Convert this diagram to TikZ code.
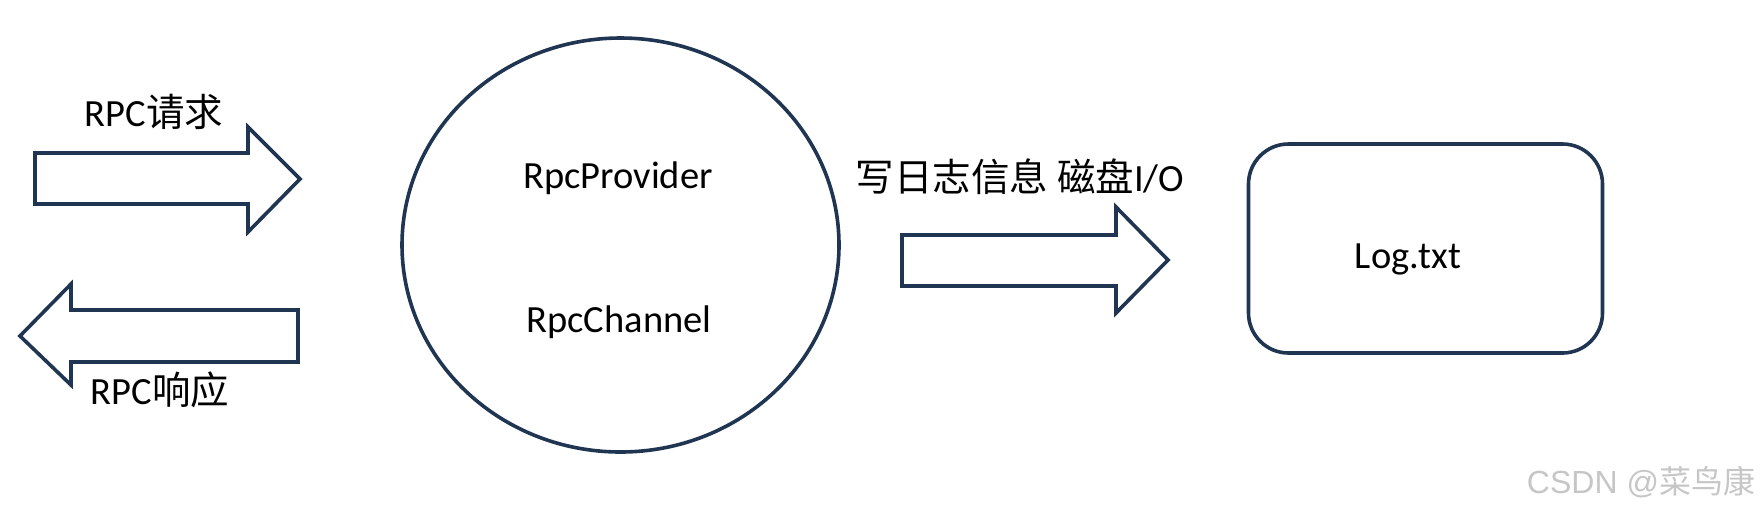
\documentclass[tikz,border=0pt]{standalone}
\usepackage{fontspec}
\setmainfont{Carlito}
\newfontfamily\cjk{Noto Sans CJK SC}
\newfontfamily\wmfont{Liberation Sans}
\usetikzlibrary{shapes.geometric}
\definecolor{navy}{HTML}{1F3552}

\begin{document}
\begin{tikzpicture}[x=0.5pt,y=-0.5pt,
    blockarrow/.style={draw=navy,line width=1.8pt,line join=miter},
    txt/.style={font=\fontsize{19.25}{23}\selectfont,inner sep=0pt}]
    \useasboundingbox (0,0) rectangle (1761,510);

    % request / response
    \draw[blockarrow] (35,153) -- (248,153) -- (248,127) -- (300,179) -- (248,232) -- (248,204) -- (35,204) -- cycle;
    \node[txt] (req) at (154,112) {RPC{\cjk 请求}};
    \draw[blockarrow] (298,310) -- (71,310) -- (71,284) -- (20,336) -- (71,385) -- (71,362) -- (298,362) -- cycle;
    \node[txt] (resp) at (160,390) {RPC{\cjk 响应}};

    % provider
    \node[ellipse,draw=navy,line width=1.8pt,minimum width=218.5pt,minimum height=207pt,inner sep=0pt] (server) at (620.5,245) {};
    \node[txt] (provider) at (618,178) {RpcProvider};
    \node[txt] (channel) at (619,322) {RpcChannel};

    % log file
    \draw[blockarrow] (902,235) -- (1116,235) -- (1116,207) -- (1168,260) -- (1116,313) -- (1116,286) -- (902,286) -- cycle;
    \node[txt] (write) at (1020,177) {{\cjk 写日志信息 磁盘}I/O};
    \node[draw=navy,line width=1.8pt,rounded corners=20pt,minimum width=177pt,minimum height=104.5pt,inner sep=0pt] (logbox) at (1425.5,248.5) {};
    \node[txt] (logfile) at (1408,259) {Log.txt};

    %\node watermark
    \node[font=\wmfont\fontsize{16}{19}\selectfont,text=gray!45,inner sep=0pt] (mark) at (1641,482) {CSDN @{\cjk 菜鸟康}};
\end{tikzpicture}
\end{document}
